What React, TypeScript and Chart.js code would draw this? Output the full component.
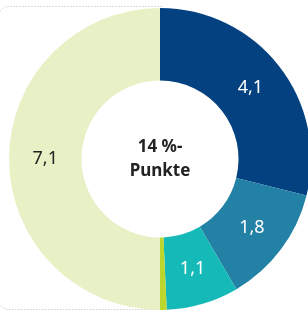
import React, { useEffect, useRef } from "react";
import { Chart, registerables } from "chart.js";

Chart.register(...registerables);

const categories = ["A", "B", "C", "D", "E"];
const values = [4.1, 1.8, 1.1, 0.1, 7.1];
const valueLabels = ["4,1", "1,8", "1,1", "", "7,1"];
const colors = ["#044181", "#2381A6", "#15BAB8", "#BDD62E", "#E8F0C6"];
const labelColors = ["#ffffff", "#ffffff", "#ffffff", "#ffffff", "#222222"];
const centerLines = ["14 %-", "Punkte"];

export default function App() {
  const ref = useRef<HTMLCanvasElement | null>(null);

  useEffect(() => {
    if (!ref.current) return;
    const borderPlugin = {
      id: "dottedBorder",
      beforeDraw(chart: any) {
        const ctx = chart.ctx;
        ctx.save();
        ctx.beginPath();
        ctx.rect(0, 0, 162, chart.height);
        ctx.clip();
        ctx.strokeStyle = "#b8b8b8";
        ctx.lineWidth = 1;
        ctx.setLineDash([1, 2]);
        const x = -1.5, y = 6.5, w = 400, h = 303, r = 10;
        ctx.beginPath();
        ctx.moveTo(x + w, y);
        ctx.lineTo(x + r, y);
        ctx.arcTo(x, y, x, y + r, r);
        ctx.lineTo(x, y + h - r);
        ctx.arcTo(x, y + h, x + r, y + h, r);
        ctx.lineTo(x + w, y + h);
        ctx.stroke();
        ctx.restore();
      },
    };
    const labelPlugin = {
      id: "labels",
      afterDraw(chart: any) {
        const ctx = chart.ctx;
        const meta = chart.getDatasetMeta(0);
        ctx.save();
        ctx.textAlign = "center";
        ctx.textBaseline = "middle";
        ctx.font = "18px 'Noto Sans'";
        meta.data.forEach((arc: any, i: number) => {
          const t = valueLabels[i];
          if (!t) return;
          const p = arc.getCenterPoint();
          ctx.fillStyle = labelColors[i];
          ctx.fillText(t, p.x, p.y);
        });
        const cx = (chart.chartArea.left + chart.chartArea.right) / 2;
        const cy = (chart.chartArea.top + chart.chartArea.bottom) / 2;
        ctx.fillStyle = "#222222";
        ctx.font = "bold 17px 'Noto Sans'";
        ctx.fillText(centerLines[0], cx, cy - 12);
        ctx.fillText(centerLines[1], cx, cy + 12);
        ctx.restore();
      },
    };
    const chart = new Chart(ref.current, {
      type: "doughnut",
      data: {
        labels: categories,
        datasets: [
          {
            data: values,
            backgroundColor: colors,
            borderWidth: 0,
          },
        ],
      },
      options: {
        animation: false,
        responsive: false,
        cutout: "52%",
        layout: { padding: { left: 9, top: 8, right: 19, bottom: 20 } },
        plugins: {
          legend: { display: false },
          tooltip: { enabled: false },
        },
      },
      plugins: [borderPlugin, labelPlugin],
    });
    return () => chart.destroy();
  }, []);

  return (
    <div style={{ position: "fixed", left: 0, top: 0, width: 308, height: 310, overflow: "hidden", background: "#fff" }}>
      <canvas ref={ref} width={330} height={330} style={{ position: "absolute", left: 0, top: 0, width: 330, height: 330 }} />
    </div>
  );
}
